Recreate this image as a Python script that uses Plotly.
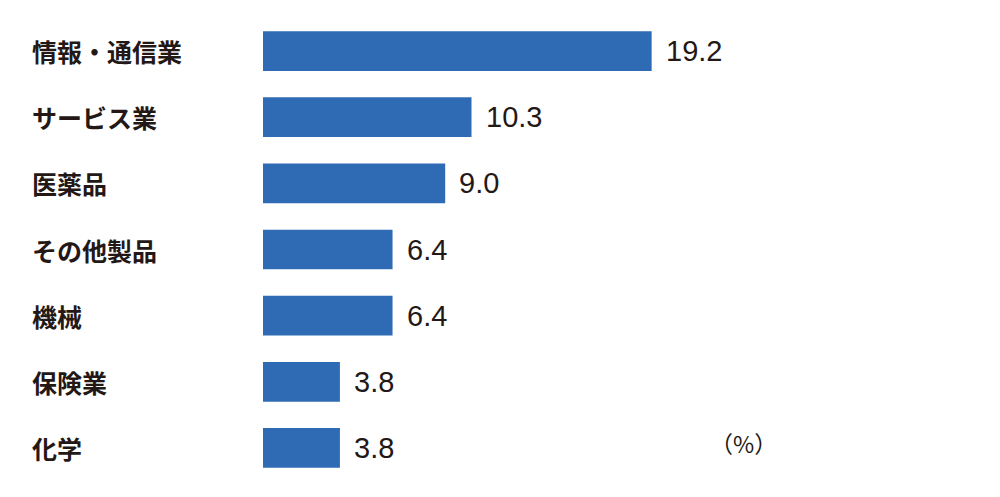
import plotly.graph_objects as go

categories = ["情報・通信業", "サービス業", "医薬品", "その他製品", "機械", "保険業", "化学"]
values = [19.2, 10.3, 9.0, 6.4, 6.4, 3.8, 3.8]
value_labels = ["19.2", "10.3", "9.0", "6.4", "6.4", "3.8", "3.8"]
unit_label = "（%）"

BAR_COLOR = "#2E6BB4"
TEXT_COLOR = "#231815"
CJK = "Noto Sans CJK JP"

fig = go.Figure()
fig.add_trace(go.Bar(
    x=values, y=categories, orientation="h",
    marker=dict(color=BAR_COLOR, line=dict(width=0)),
    width=0.6, hoverinfo="skip",
))

annotations = []
for c, v, t in zip(categories, values, value_labels):
    annotations.append(dict(
        x=v, y=c, xref="x", yref="y", text=t, showarrow=False,
        xanchor="left", yanchor="middle", xshift=12,
        font=dict(family="Liberation Sans, Arial, sans-serif", size=29, color=TEXT_COLOR),
    ))
    annotations.append(dict(
        x=-0.466, y=c, xref="paper", yref="y", text="<b>%s</b>" % c, showarrow=False,
        xanchor="left", yanchor="middle",
        font=dict(family=CJK, size=25, color=TEXT_COLOR),
    ))
annotations.append(dict(
    x=0.89, y=0.082, xref="paper", yref="paper", text=unit_label, showarrow=False,
    xanchor="left", yanchor="middle",
    font=dict(family=CJK, size=23, color=TEXT_COLOR),
))

fig.update_layout(
    width=1000, height=497,
    margin=dict(l=263, r=237, t=18, b=16, pad=0),
    paper_bgcolor="white", plot_bgcolor="white",
    showlegend=False,
    xaxis=dict(range=[0, 24.7], visible=False, fixedrange=True),
    yaxis=dict(categoryorder="array", categoryarray=categories, autorange="reversed",
               range=[6.5, -0.5], showticklabels=False, showgrid=False, zeroline=False,
               showline=False, ticks="", fixedrange=True),
    annotations=annotations,
    bargap=0.4,
)

fig.write_html("out.html", config={"displayModeBar": False})
